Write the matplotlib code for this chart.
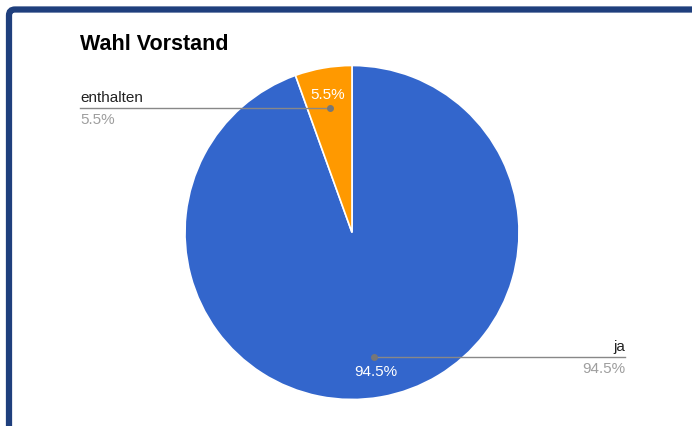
import matplotlib
matplotlib.use("Agg")
import matplotlib.pyplot as plt
from matplotlib.patches import FancyBboxPatch
import numpy as np

plt.rcParams["font.family"] = ["Liberation Sans", "DejaVu Sans"]

# data
labels = ["ja", "enthalten"]
values = [94.5, 5.5]
colors = ["#3366cc", "#ff9900"]
title = "Wahl Vorstand"

W, H = 692, 427
fig = plt.figure(figsize=(W / 100, H / 100), dpi=100)
ax = fig.add_axes([0, 0, 1, 1])

# dark blue frame (left + top)
frame = FancyBboxPatch((9, -40), W + 40, H - 10.5 + 40, boxstyle="round,pad=0,rounding_size=6",
                       fc="none", ec="#1f3f7d", lw=4.5, zorder=1)
ax.add_patch(frame)

cx, cy, r = 352, H - 233.5, 167
wedges, _ = ax.pie(values, colors=colors, startangle=90, counterclock=False,
                   center=(cx, cy), radius=r, frame=True,
                   wedgeprops=dict(edgecolor="white", linewidth=1.2))
ax.set_xlim(0, W)
ax.set_ylim(0, H)
ax.set_aspect("equal")
ax.axis("off")

total = sum(values)
start = 90
for lab, v in zip(labels, values):
    span = v / total * 360
    mid = np.deg2rad(start - span / 2)
    start -= span
    dx, dy = np.cos(mid), np.sin(mid)
    px, py = cx + 0.757 * r * dx, cy + 0.757 * r * dy
    pct = f"{v:.1f}%"
    ax.text(cx + 0.84 * r * dx, cy + 0.84 * r * dy, pct, color="white",
            fontsize=11, ha="center", va="center", zorder=5)
    ax.plot(px, py, "o", color="#777777", ms=4, zorder=6)
    if dx > 0:
        xend = 625
        ha = "right"
    else:
        xend = 80
        ha = "left"
    ax.plot([px, xend], [py, py], color="#888888", lw=1, zorder=4)
    ax.text(xend, py + 4, lab, color="#222222", fontsize=11, ha=ha, va="bottom")
    ax.text(xend, py - 4, pct, color="#9e9e9e", fontsize=11, ha=ha, va="top")

ax.text(80, H - 45, title, fontsize=15.5, fontweight="bold", ha="left", va="center", color="black")

fig.savefig("out.png", dpi=100)
